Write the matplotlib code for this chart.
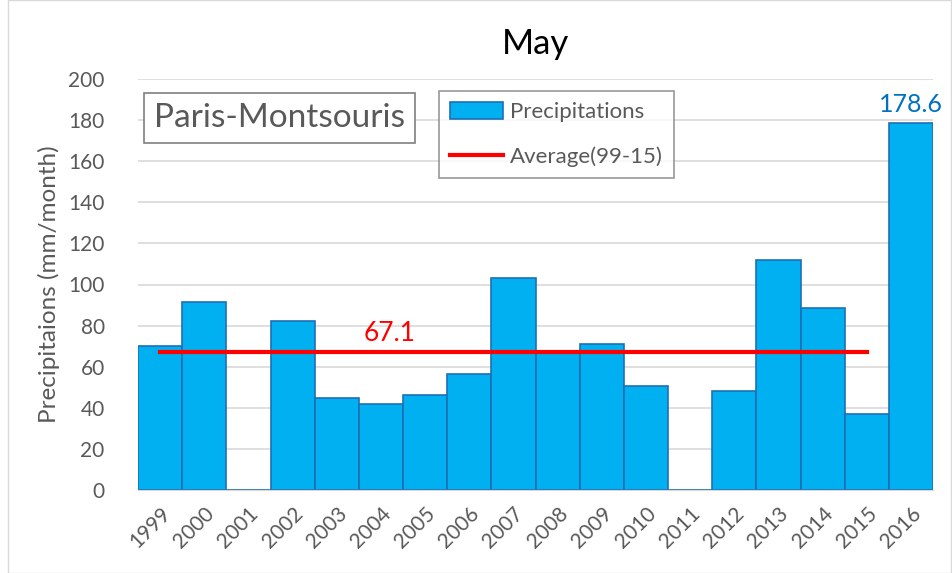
import numpy as np
import matplotlib.pyplot as plt
from matplotlib.patches import Rectangle

plt.rcParams['font.family'] = ['Lato', 'DejaVu Sans']

years = ['1999', '2000', '2001', '2002', '2003', '2004', '2005', '2006', '2007',
         '2008', '2009', '2010', '2011', '2012', '2013', '2014', '2015', '2016']
precip = [70, 91.5, 0, 82, 45, 42, 46, 56.5, 103, 67.5, 71, 50.5, 0, 48, 112, 88.5, 37, 178.6]
average = 67.1
avg_years = years[:-1]

gray = '#595959'
x = np.arange(len(years))

fig = plt.figure(figsize=(9.52, 5.73), dpi=100)
ax = fig.add_axes([138/952, 1-490/573, (933-138)/952, (490-79)/573])

bars = ax.bar(x, precip, width=1.0, color='#00b0f0', edgecolor='#1f6fb5', linewidth=1.2,
              zorder=2)
line, = ax.plot(x[:len(avg_years)], [average]*len(avg_years), color='#ff0000', linewidth=3,
                zorder=3)

ax.text(5.2, average + 3, '67.1', color='#ff0000', fontsize=19, ha='center', va='bottom')
ax.text(x[-1], precip[-1] + 3.5, '178.6', color='#0070c0', fontsize=18, ha='center', va='bottom')

ax.set_xlim(-0.5, len(years) - 0.5)
ax.set_ylim(0, 200)
ax.set_yticks(range(0, 201, 20))
ax.set_xticks(x)
ax.set_xticklabels(years, rotation=45, ha='right', rotation_mode='anchor')
ax.tick_params(axis='both', colors=gray, labelsize=15, length=0)
ax.tick_params(axis='y', pad=24)
ax.tick_params(axis='x', pad=10)
ax.grid(axis='y', color='#d9d9d9', linewidth=1.2, zorder=0)
ax.set_axisbelow(True)
for s in ['top', 'right', 'left']:
    ax.spines[s].set_visible(False)
ax.spines['bottom'].set_color('#d9d9d9')

ax.set_ylabel('Precipitaions (mm/month)', color=gray, fontsize=17.5, labelpad=6)
ax.set_title('May', fontsize=25, color='black', pad=18)

ax.text(0.02, 0.905, 'Paris-Montsouris', transform=ax.transAxes, fontsize=24, color=gray,
        va='center', ha='left',
        bbox=dict(boxstyle='square,pad=0.3', facecolor='white', edgecolor='#7f7f7f', linewidth=1.2))

leg = ax.legend([bars, line], ['Precipitations', 'Average(99-15)'],
                loc='upper left', bbox_to_anchor=(0.378, 0.972), fontsize=16, frameon=True,
                fancybox=False, edgecolor='#7f7f7f', labelspacing=1.1, handlelength=2.4,
                handleheight=0.8, handletextpad=0.3, borderpad=0.5, borderaxespad=0)
leg.get_frame().set_linewidth(1.2)
for t in leg.get_texts():
    t.set_color(gray)

fig.add_artist(Rectangle((8/952, 0), 943/952, 1, transform=fig.transFigure, fill=False,
                         edgecolor='#d9d9d9', linewidth=1))

fig.savefig('out.png', dpi=100)
